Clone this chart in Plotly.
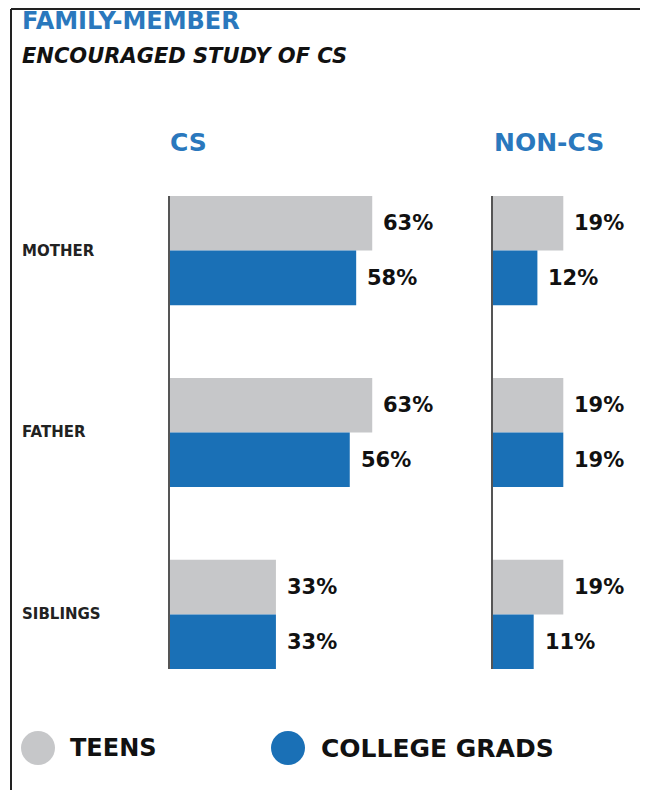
import plotly.graph_objects as go

# ---- data ----
categories = ["MOTHER", "FATHER", "SIBLINGS"]
series_names = ["TEENS", "COLLEGE GRADS"]
cs_teens = [63, 63, 33]
cs_grads = [58, 56, 33]
noncs_teens = [19, 19, 19]
noncs_grads = [12, 19, 11]
panel_titles = ["CS", "NON-CS"]
title_line1 = "FAMILY-MEMBER"
title_line2 = "ENCOURAGED STUDY OF CS"

# ---- style ----
W, H = 648, 790
OFF = 8  # page body margin offset
GRAY = "#c6c7c9"
BLUE = "#1a70b6"
TITLE_BLUE = "#2a78bd"
AXIS = "#555555"
FONT = "DejaVu Sans"

def px(x):
    return (x - OFF) / W

def py(y):
    return 1 - (y - OFF) / H

fig = go.Figure()

panels = [
    ("x", "y", cs_teens, cs_grads),
    ("x2", "y2", noncs_teens, noncs_grads),
]
for xa, ya, teens, grads in panels:
    fig.add_trace(go.Bar(x=teens, y=categories, orientation="h", name=series_names[0],
                         marker=dict(color=GRAY, line=dict(width=0)),
                         xaxis=xa, yaxis=ya, hoverinfo="skip"))
    fig.add_trace(go.Bar(x=grads, y=categories, orientation="h", name=series_names[1],
                         marker=dict(color=BLUE, line=dict(width=0)),
                         xaxis=xa, yaxis=ya, hoverinfo="skip"))

y_dom = [py(669), py(196)]
cs_scale = 3.21   # px per percent
non_scale = 3.7
cs_dom = [170, 460]
non_dom = [493, 640]

common_x = dict(showgrid=False, zeroline=False, showline=False, showticklabels=False, ticks="")
common_y = dict(showgrid=False, zeroline=False, showline=True, linecolor=AXIS, linewidth=2,
                showticklabels=False, ticks="", range=[2.3, -0.3])

fig.update_layout(
    width=W, height=H,
    margin=dict(l=0, r=0, t=0, b=0),
    paper_bgcolor="white", plot_bgcolor="white",
    showlegend=False,
    barmode="group", bargap=0.4, bargroupgap=0,
    xaxis=dict(domain=[px(cs_dom[0]), px(cs_dom[1])], range=[0, (cs_dom[1] - cs_dom[0]) / cs_scale],
               anchor="y", **common_x),
    xaxis2=dict(domain=[px(non_dom[0]), px(non_dom[1])], range=[0, (non_dom[1] - non_dom[0]) / non_scale],
                anchor="y2", **common_x),
    yaxis=dict(domain=y_dom, anchor="x", **common_y),
    yaxis2=dict(domain=y_dom, anchor="x2", matches="y", **common_y),
)

ann = []
# value labels
for xref, teens, grads in [("x", cs_teens, cs_grads), ("x2", noncs_teens, noncs_grads)]:
    for i, cat in enumerate(categories):
        for v, off in [(teens[i], -0.15), (grads[i], 0.15)]:
            ann.append(dict(x=v, y=i + off, xref=xref, yref="y", text=f"{v}%",
                            showarrow=False, xanchor="left", yanchor="middle", xshift=9,
                            font=dict(family=FONT, size=21, color="#111111", weight="bold")))
# category labels
for i, cat in enumerate(categories):
    ann.append(dict(x=px(20), y=i, xref="paper", yref="y", text=cat, showarrow=False,
                    xanchor="left", yanchor="middle",
                    font=dict(family=FONT, size=15, color="#222222", weight="bold")))
# panel titles
for t, xpos in zip(panel_titles, [168, 492]):
    ann.append(dict(x=px(xpos), y=py(142), xref="paper", yref="paper", text=t, showarrow=False,
                    xanchor="left", yanchor="middle",
                    font=dict(family=FONT, size=25, color=TITLE_BLUE, weight="bold")))
# chart title
ann.append(dict(x=px(20), y=py(21), xref="paper", yref="paper", text=title_line1, showarrow=False,
                xanchor="left", yanchor="middle",
                font=dict(family=FONT, size=24, color=TITLE_BLUE, weight="bold")))
ann.append(dict(x=px(20), y=py(56), xref="paper", yref="paper", text=title_line2, showarrow=False,
                xanchor="left", yanchor="middle",
                font=dict(family=FONT, size=21, color="#111111", weight="bold", style="italic")))
# legend
legend_items = [(series_names[0], GRAY, 38, 68), (series_names[1], BLUE, 288, 319)]
shapes = []
for name, col, cx, tx in legend_items:
    r = 17
    shapes.append(dict(type="circle", xref="paper", yref="paper",
                       x0=px(cx - r), x1=px(cx + r), y0=py(748 + r), y1=py(748 - r),
                       fillcolor=col, line=dict(width=0)))
    ann.append(dict(x=px(tx), y=py(748), xref="paper", yref="paper", text=name, showarrow=False,
                    xanchor="left", yanchor="middle",
                    font=dict(family=FONT, size=25 if len(name) > 6 else 24, color="#111111",
                              weight="bold")))

# frame (left and top border)
shapes.append(dict(type="line", xref="paper", yref="paper", x0=px(11), x1=px(11), y0=0, y1=py(9),
                   line=dict(color="#222222", width=2)))
shapes.append(dict(type="line", xref="paper", yref="paper", x0=px(11), x1=1, y0=py(9), y1=py(9),
                   line=dict(color="#222222", width=2)))

fig.update_layout(annotations=ann, shapes=shapes)
fig.write_html("out.html")
